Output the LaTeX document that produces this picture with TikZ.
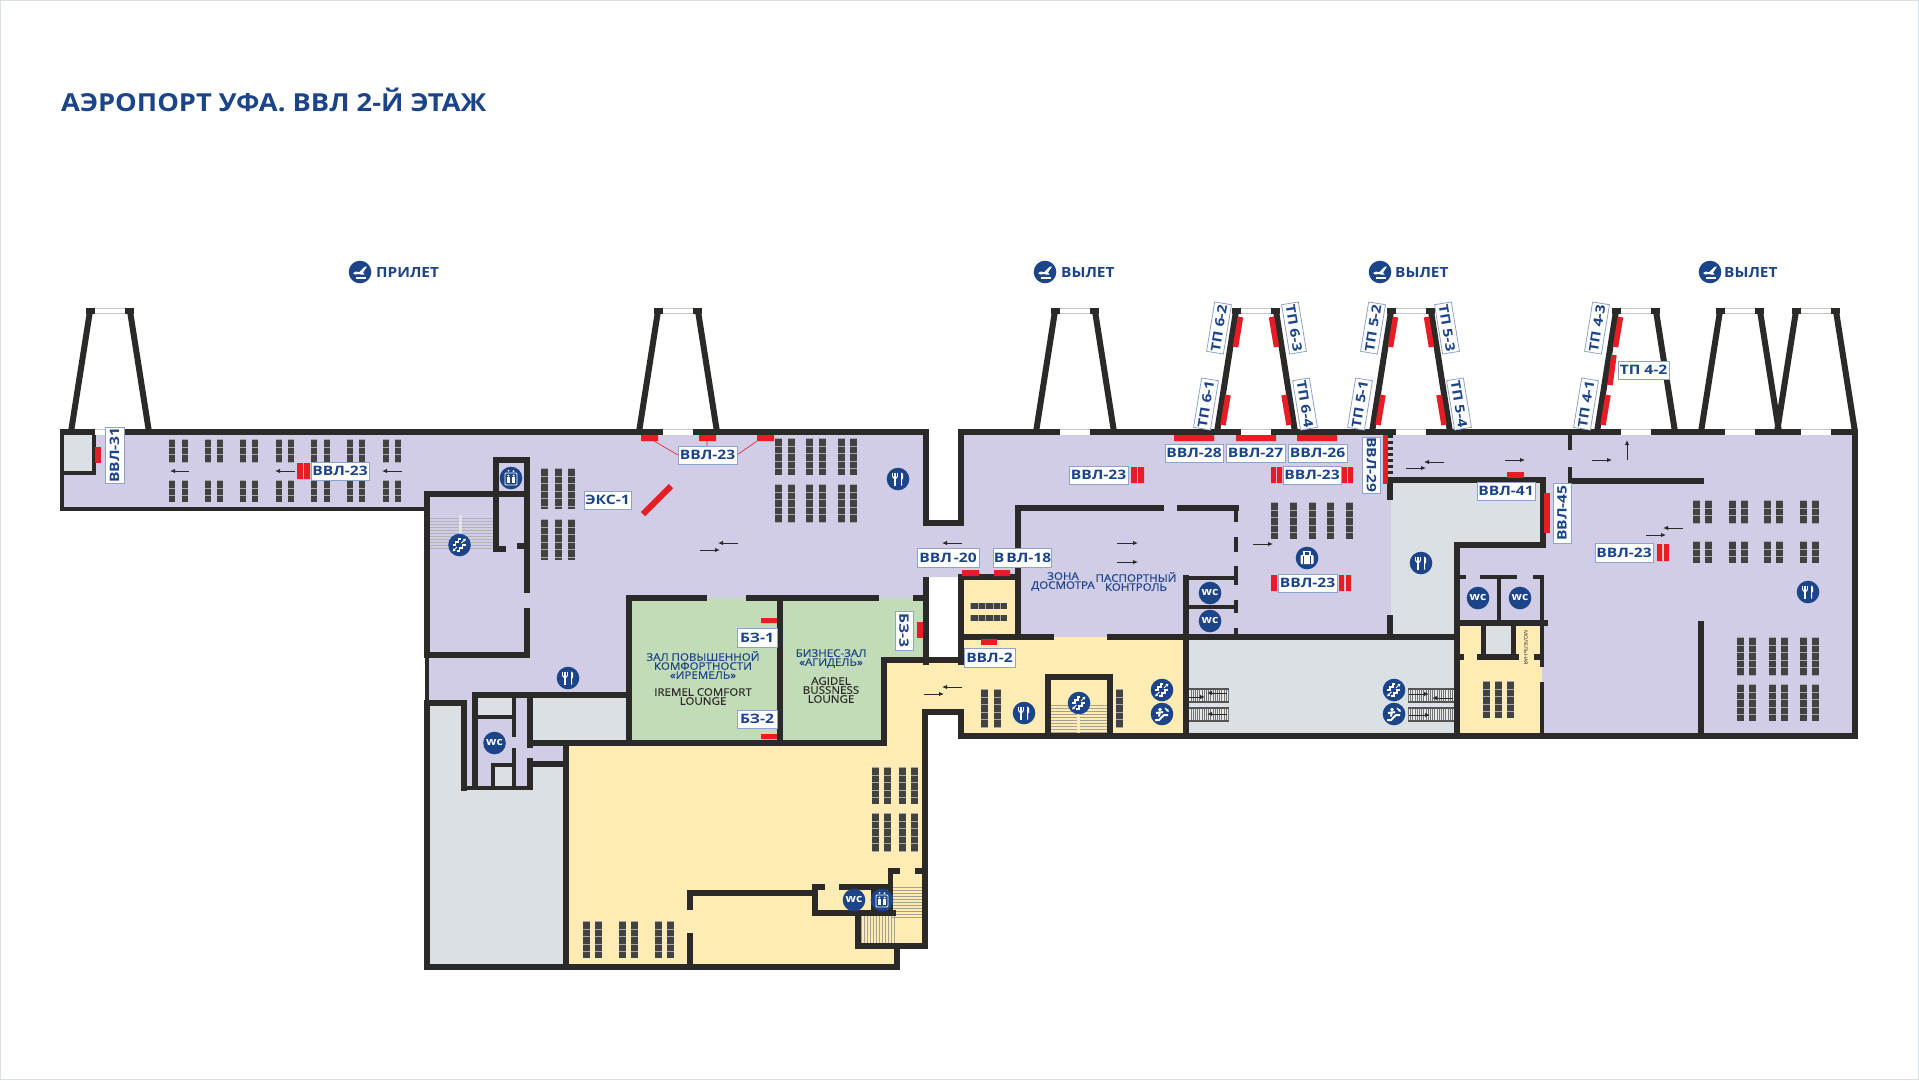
\documentclass[tikz,border=0pt]{standalone}
\usepackage{fontspec}
\setmainfont{Open Sans}[FakeStretch=1.1]
\newfontfamily\lblfont{Open Sans}[FakeStretch=1.2]
\newfontfamily\roomfont{Open Sans}[FakeStretch=1.1,FakeBold=0.35]
\usetikzlibrary{arrows.meta}
\definecolor{wallc}{HTML}{2B2A29}
\definecolor{lilac}{HTML}{D1CDE6}
\definecolor{yell}{HTML}{FEECB4}
\definecolor{greenr}{HTML}{C3DCB8}
\definecolor{grayr}{HTML}{DBE0E4}
\definecolor{navy}{HTML}{1C4489}
\definecolor{redm}{HTML}{E81C24}
\definecolor{seatc}{HTML}{424242}
\definecolor{lblb}{HTML}{8EA3CC}
\tikzset{
 wall/.style={draw=wallc,line width=5.5pt},
 twall/.style={draw=wallc,line width=3.5pt},
 redbar/.style={fill=redm,draw=none},
 arw/.style={draw=wallc,line width=1pt,-{Latex[length=5pt,width=4.5pt]}},
 lbl/.style={draw=lblb,fill=white,line width=.8pt,inner sep=0pt,text=navy,font=\fontsize{13}{13}\lblfont\bfseries,align=center},
 roomt/.style={inner sep=0pt,text=navy,font=\fontsize{10.5}{9}\roomfont,align=center},
 roomk/.style={inner sep=0pt,text=wallc,font=\fontsize{10.5}{9}\roomfont,align=center},
 head/.style={inner sep=0pt,anchor=west,text=navy,font=\fontsize{14}{14}\bfseries}
}
% label: name, cx, cy, width along the text, height, rotation, text
\newcommand\lab[7]{\node[lbl,minimum width=#4pt,minimum height=#5pt,rotate=#6] (#1) at (#2,#3) {#7};}
% seat column x,y1,y2,w
\newcommand\seatcol[4]{\fill[seatc] (#1,#2) rectangle ++(#4,#3-#2);
 \draw[draw=gray!70,line width=#4pt,dash pattern=on .6pt off 6.9pt] ({#1+#4/2},#2) -- ({#1+#4/2},#3);}
\newcommand\seatrow[3]{\fill[seatc] (#1,#2) rectangle (#3,#2+6);
 \draw[draw=gray!70,line width=6pt,dash pattern=on .6pt off 6.9pt] (#1,#2+3) -- (#3,#2+3);}
\newcommand\bridge[1]{
 \draw[wall,line width=6pt] (#1-39,432)--(#1-20,311);
 \draw[wall,line width=6pt] (#1+39,432)--(#1+20,311);
 \draw[wall] (#1-24,311)--(#1-15,311);
 \draw[wall] (#1+15,311)--(#1+24,311);
 \draw[gray!45,line width=.7pt] (#1-15,308.6)--(#1+15,308.6) (#1-15,313.5)--(#1+15,313.5);
}
\newcommand\gapw[1]{
 \fill[white] (#1-15,429) rectangle (#1+15,435);
 \draw[gray!45,line width=.7pt] (#1-15,429.2)--(#1+15,429.2);
}
\newcommand\rs[4]{\draw[redm,line width=5.5pt] ({#1},#2)--({#3},#4);}
\newcommand\bridgered[2]{% c, sign
 \rs{#1+#2*15.5}{317}{#1+#2*20.5}{347}
 \rs{#1+#2*28}{395}{#1+#2*33}{425}
}
\newcommand\disc[2]{\fill[navy] (#1,#2) circle (11.3);}
\newcommand\food[2]{\disc{#1}{#2}
 \begin{scope}[shift={(#1,#2)}]
 \draw[white,line width=1.1pt] (-3,-6.5)--(-3,6.5) (-5.2,-6.5)--(-5.2,-2.5) (-.8,-6.5)--(-.8,-2.5);
 \draw[white,line width=1.1pt] (-5.2,-2.5) to[out=-90,in=180] (-3,-.5) to[out=0,in=-90] (-.8,-2.5);
 \fill[white] (3,-6.5) to[out=0,in=90] (5.2,-.5) -- (4.2,.5)--(4.2,6.5)--(3,6.5)--cycle;
 \end{scope}}
\newcommand\wc[2]{\disc{#1}{#2}\node[inner sep=0pt,text=white,font=\fontsize{11}{11}\bfseries] at (#1,#2-.8) {wc};}
\newcommand\lift[2]{\disc{#1}{#2}
 \begin{scope}[shift={(#1,#2)}]
 \draw[white,line width=.8pt,rounded corners=1pt] (-6,-5) rectangle (6,7);
 \foreach \d in {-2.7,2.7}{\fill[white] (\d,-2.4) circle (1.1); \fill[white] (\d-1.3,-1) rectangle (\d+1.3,5.2);}
 \fill[white] (-3.5,-8)--(-1.5,-8)--(-2.5,-6.2)--cycle (1.5,-6.2)--(3.5,-6.2)--(2.5,-8)--cycle;
 \end{scope}}
\newcommand\stairic[2]{\disc{#1}{#2}
 \begin{scope}[shift={(#1,#2)}]
 \draw[white,line width=1.6pt] (-7,0)--(-4,0)--(-4,-3)--(-1,-3)--(-1,-6)--(1,-6);
 \draw[white,line width=1.6pt] (-3,6)--(0,6)--(0,3)--(3,3)--(3,0)--(6,0);
 \draw[white,line width=1pt,-{Latex[length=3pt,width=3.4pt]}] (2,-2)--(6.5,-6.5);
 \draw[white,line width=1pt,-{Latex[length=3pt,width=3.4pt]}] (-2.5,2)--(-7,6.5);
 \end{scope}}
\newcommand\escic[2]{\disc{#1}{#2}
 \begin{scope}[shift={(#1,#2)}]
 \draw[white,line width=2pt] (-7,6)--(-3,6)--(2,1)--(6,1);
 \fill[white] (-2,-4.5) circle (1.8);
 \draw[white,line width=2pt] (-2,-2.5)--(-3,2.5) (-6,-1)--(1,-2);
 \draw[white,line width=1.1pt,-{Latex[length=3pt,width=3.4pt]}] (3,-6)--(7,-2);
 \end{scope}}
\newcommand\planeic[2]{\disc{#1}{#2}
 \begin{scope}[shift={(#1,#2)}]
 \fill[white] (-7,1)--(-4,-.5)--(-1,.3)--(5,-5.5)--(7,-5.5)--(3,0.5)--(4.5,2.5)--(1,2.5)--(-1,2)--(-5,2.5)--cycle;
 \draw[white,line width=1.3pt] (-4,6)--(6,6);
 \end{scope}}
\newcommand\bagic[2]{\disc{#1}{#2}
 \begin{scope}[shift={(#1,#2)}]
 \fill[white,rounded corners=1pt] (-6.5,-3) rectangle (6.5,6);
 \draw[white,line width=1.2pt] (-3,-3)--(-3,-6.5)--(3,-6.5)--(3,-3);
 \draw[navy,line width=1pt] (-3.5,-2.5)--(-3.5,5.5) (3.5,-2.5)--(3.5,5.5);
 \end{scope}}
\begin{document}
\begin{tikzpicture}[x=1pt,y=-1pt]
\useasboundingbox (0,0) rectangle (1919,1080);
\fill[white] (0,0) rectangle (1919,1080);
\draw[grayr,line width=1.6pt] (.5,.5) rectangle (1918.5,1079.5);
% ---- fills
\fill[lilac] (63,432)--(926,432)--(926,520)--(961,520)--(961,432)--(1855,432)--(1855,736)--(1186,736)--(1186,637)--(1018,637)--(1018,577)--(926,577)--(926,598)--(628,598)--(628,743)--(566,743)--(566,764)--(530,764)--(530,788)--(464,788)--(464,703)--(427,703)--(427,509)--(63,509)--cycle;
\fill[greenr] (628,598) rectangle (780,743);
\fill[greenr] (780,598)--(926,598)--(926,663)--(884,663)--(884,743)--(780,743)--cycle;
\fill[yell] (566,743)--(884,743)--(884,663)--(961,663)--(961,637)--(1186,637)--(1186,736)--(961,736)--(961,715)--(924,715)--(924,946)--(897,946)--(897,967)--(566,967)--cycle;
\fill[yell] (961,577) rectangle (1018,637);
\fill[yell] (1457,623) rectangle (1542,736);
\fill[grayr] (427,703)--(464,703)--(464,788)--(530,788)--(530,764)--(566,764)--(566,967)--(427,967)--cycle;
\fill[grayr] (530,698) rectangle (628,743);
\fill[grayr] (476,698) rectangle (514,717);
\fill[grayr] (493,765) rectangle (514,788);
\fill[grayr] (1186,637) rectangle (1457,736);
\fill[grayr] (1391,480)--(1543,480)--(1543,545)--(1457,545)--(1457,637)--(1391,637)--cycle;
\fill[grayr] (63,432) rectangle (93,473);
\fill[grayr] (1483,625) rectangle (1513,657);
% ---- stairs and escalators
\foreach \y in {518,521,...,548}{\draw[draw=gray!60,line width=.7pt] (429.5,\y)--(493.5,\y);}
\fill[lilac!60!white] (459,515) rectangle (462,534);
\foreach \y in {705,708,...,733}{\draw[draw=gray!70!yell,line width=.7pt] (1051,\y)--(1107,\y);}
\fill[yell] (1077,705) rectangle (1080,733);
\foreach \y in {887,890,...,917}{\draw[draw=gray!70!yell,line width=.7pt] (892,\y)--(924,\y);}
\foreach \x in {861,864,...,894}{\draw[draw=gray!70!yell,line width=.7pt] (\x,916)--(\x,943);}
\foreach \xa/\xb in {1184/1229,1408/1454}{
 \foreach \y in {689,708}{
  \fill[grayr!70!white] (\xa,\y) rectangle (\xb,\y+13);
  \draw[draw=gray!90!black,line width=13pt,dash pattern=on .6pt off 1.6pt] (\xa,\y+6.5)--(\xb,\y+6.5);
  \draw[draw=wallc!80!white,line width=1.3pt] (\xa,\y)--(\xb,\y) (\xa,\y+13)--(\xb,\y+13);
 }}
% ---- seats
\foreach \x in {169,182,204.5,217,240,252,276,288,311,323.5,347,359,382.5,395}{\seatcol{\x}{439}{462}{6}\seatcol{\x}{480}{502}{6}}
\foreach \x in {541,555,568}{\seatcol{\x}{468}{509}{7}\seatcol{\x}{519}{560}{7}}
\foreach \x in {775,788,806,819,838,850}{\seatcol{\x}{438}{475}{7}\seatcol{\x}{484}{522}{7}}
\foreach \x in {871.5,883.5,899,911}{\seatcol{\x}{767}{804}{7}\seatcol{\x}{813}{851}{7}}
\foreach \x in {583,595,619,631,654.5,667}{\seatcol{\x}{921}{958}{7}}
\seatrow{970}{603}{1007}\seatrow{970}{615}{1007}
\foreach \x in {981,994,1116}{\seatcol{\x}{689}{727}{7}}
\foreach \x in {1271,1290,1308.5,1327,1345.5}{\seatcol{\x}{502}{539}{7}}
\foreach \x in {1693,1705,1729,1741,1764,1776,1800,1812}{\seatcol{\x}{500}{523}{7}\seatcol{\x}{541}{563}{7}}
\foreach \x in {1737,1749,1769,1781,1800,1812}{\seatcol{\x}{637}{675}{7}\seatcol{\x}{684}{721}{7}}
\foreach \x in {1483,1495,1507}{\seatcol{\x}{681}{718}{7}}
% ---- outer walls
\draw[wall] (60,432)--(926,432);
\draw[wall] (961,432)--(1858,432);
\draw[wall] (926,429)--(926,523)--(961,523)--(961,429);
\draw[twall,line width=4pt] (62,432)--(62,509)--(427,509);
\draw[wall,line width=4pt] (62,473)--(95,473);
\draw[twall] (94,432)--(94,475);
\draw[wall] (1855,429)--(1855,739);
\draw[wall] (961,736)--(1858,736);
\draw[wall] (961,739)--(961,712)--(922,712);
\draw[wall] (925,712)--(925,949);
\draw[wall] (858,946)--(927,946);
\draw[wall] (897,946)--(897,967);
\draw[wall] (424,967)--(900,967);
\draw[wall] (427,491)--(427,655);
\draw[twall] (427,655)--(427,703);
\draw[wall] (427,703)--(427,970);
% left room & lift
\draw[wall] (424,494)--(530,494);
\draw[wall] (493,460)--(530,460);
\draw[wall] (496,457)--(496,549)--(506,549);
\draw[wall] (517,546)--(527,546);
\draw[wall] (527,457)--(527,593);
\draw[wall] (527,608)--(527,658);
\draw[wall] (424,655)--(530,655);
% wc block
\draw[wall] (472,695)--(631,695);
\draw[wall] (475,695)--(475,790);
\draw[wall] (424,703)--(464,703)--(464,791);
\draw[twall,line width=4pt] (462,788)--(532,788);
\draw[wall] (530,693)--(530,748);
\draw[wall] (530,758)--(530,790);
\draw[twall,line width=4pt] (514,698)--(514,737);
\draw[twall,line width=4pt] (514,748)--(514,788);
\draw[twall,line width=4pt] (476,717)--(514,717);
\draw[twall,line width=4pt] (514,765)--(493,765)--(493,788);
\draw[wall] (530,743)--(887,743);
\draw[wall] (530,764)--(566,764);
\draw[wall] (566,743)--(566,970);
% lounges
\draw[wall] (629,595)--(629,746);
\draw[wall] (626,598)--(707,598);
\draw[wall] (746,598)--(879,598);
\draw[wall] (913,598)--(926,598);
\draw[wall] (780,595)--(780,746);
\draw[wall] (926,577)--(926,665);
\draw[wall] (884,746)--(884,660)--(964,660);
\draw[wall] (961,575)--(961,665);
% yellow interior
\draw[wall] (687,893)--(815,893);
\draw[wall] (690,890)--(690,910);
\draw[wall] (690,933)--(690,967);
\draw[wall] (815,884)--(815,916);
\draw[wall] (812,887)--(825,887);
\draw[wall] (839,887)--(893,887);
\draw[wall] (812,913)--(896,913);
\draw[wall] (874,887)--(874,913);
\draw[wall] (890.5,868)--(890.5,913);
\draw[wall] (888,871)--(900,871);
\draw[wall] (915,871)--(927,871);
\draw[wall] (858,911)--(858,949);
% central block
\draw[wall] (958,577)--(1021,577);
\draw[wall] (1018,505)--(1018,639);
\draw[wall] (1015,508)--(1164,508);
\draw[wall] (1177,508)--(1238.5,508);
\foreach \a/\b in {508/522,537/552,566/585,600/613,628/634}{\draw[wall,line width=4pt] (1236,\a)--(1236,\b);}
\draw[wall] (961,637)--(1054,637);
\draw[wall] (1107,637)--(1460,637);
\draw[wall] (1186,575)--(1186,739);
\draw[wall,line width=4pt] (1186,578)--(1236,578);
\draw[wall,line width=4pt] (1186,607)--(1236,607);
\draw[wall] (1048,736)--(1048,677)--(1110,677)--(1110,736);
\draw[wall] (1390,477)--(1390,500);
\draw[wall] (1390,615)--(1390,637);
\draw[wall] (1387,480)--(1546,480);
\draw[wall] (1543,478)--(1543,548);
\draw[wall] (1454,545)--(1546,545);
\draw[wall] (1457,542)--(1457,739);
% right part
\draw[wall,line width=4pt] (1570,435)--(1570,450);
\draw[wall,line width=4pt] (1570,467)--(1570,483);
\draw[wall] (1568,481)--(1704,481);
\draw[wall] (1701,621)--(1701,736);
\draw[wall,line width=4pt] (1458,577)--(1466,577);
\draw[wall,line width=4pt] (1480,577)--(1517,577);
\draw[wall,line width=4pt] (1533,577)--(1543,577);
\draw[wall,line width=4pt] (1499,577)--(1499,623);
\draw[wall,line width=4pt] (1542,575)--(1542,623);
\draw[wall] (1457,623)--(1548,623);
\draw[wall] (1458,657)--(1464,657);
\draw[wall] (1477,657)--(1519,657);
\draw[wall] (1534,657)--(1542,657);
\draw[wall,line width=5pt] (1483,623)--(1483,657);
\draw[wall,line width=5pt] (1513,623)--(1513,657);
\draw[wall,line width=4pt] (1542,623)--(1542,667);
\draw[wall,line width=4pt] (1542,682)--(1542,736);
% stairs near VVL-29
\draw[wall,line width=5pt,dash pattern=on 3pt off 3pt] (1390.5,435)--(1390.5,477);
% ---- jet bridges
\foreach \c in {110,678,1075,1256,1411,1636,1740,1816}{\bridge{\c}\gapw{\c}}
% ---- red marks
\fill[redbar] (95,447) rectangle (100.5,463);
\fill[redbar] (297,463) rectangle (303,479) (304,463) rectangle (310,479);
\fill[redbar] (641,435) rectangle (658,441) (699,435) rectangle (716,441) (757,435) rectangle (774,441);
\draw[redm,line width=6pt] (643,514)--(671,486);
\fill[redbar] (1174,435) rectangle (1214,441) (1236,435) rectangle (1276,441) (1297,435) rectangle (1337,441);
\fill[redbar] (1131,467) rectangle (1137,483) (1138,467) rectangle (1144,483);
\fill[redbar] (1271,467) rectangle (1276,483) (1277,467) rectangle (1282,483);
\fill[redbar] (1342,467) rectangle (1347,483) (1348,467) rectangle (1353,483);
\fill[redbar] (1383,435) rectangle (1388,484);
\fill[redbar] (962,570) rectangle (979,576) (994,570) rectangle (1010,576);
\fill[redbar] (981,639) rectangle (997,645);
\fill[redbar] (1271,575) rectangle (1277,591) (1339,575) rectangle (1344,591) (1346,575) rectangle (1351,591);
\fill[redbar] (1507,472) rectangle (1524,478);
\fill[redbar] (1544,493) rectangle (1550,533);
\fill[redbar] (1657,544) rectangle (1662,561) (1664,544) rectangle (1669,561);
\fill[redbar] (761,618) rectangle (777,623) (761,734) rectangle (777,739);
\fill[redbar] (917,622) rectangle (923,638);
\foreach \c in {1256,1411}{\bridgered{\c}{-1}\bridgered{\c}{1}}
\bridgered{1636}{-1}
\rs{1636-22}{355}{1636-26}{385}
% ---- arrows
\foreach \a/\b/\c/\d in {189/471/170/471,295/471/275/471,402/471/382/471,738/543/718/543,700/550/720/550,962/543/942/543,962/687/942/687,924/694/944/694,1117/543/1138/543,1117/562/1138/562,1253/544/1273/544,1444/462/1424/462,1406/468/1426/468,1505/460/1525/460,1592/460/1612/460,1627/460/1627/440,1683/528/1663/528,1646/535/1666/535,1186/697/1205/697,1227/693/1207/693,1227/714/1207/714,1409/694/1429/694,1453/698/1432/698,1409/715/1430/715}{\draw[arw] (\a,\b)--(\c,\d);}
% ---- labels
\draw[redm,line width=.6pt] (654,441)--(678,455) (707,441)--(707,446) (757,441)--(737,455);
\lab{l31}{114.5}{455}{56}{19}{90}{ВВЛ-31}
\lab{l23a}{340}{471}{58}{18}{0}{ВВЛ-23}
\lab{l23b}{707.5}{455}{59}{18}{0}{ВВЛ-23}
\lab{eks}{607.5}{500}{47}{18}{0}{ЭКС-1}
\lab{l28}{1194}{453}{58}{18}{0}{ВВЛ-28}
\lab{l27}{1255.5}{453}{59}{18}{0}{ВВЛ-27}
\lab{l26}{1317.5}{453}{59}{18}{0}{ВВЛ-26}
\lab{l23c}{1098.5}{475}{59}{18}{0}{ВВЛ-23}
\lab{l23d}{1312}{475}{58}{18}{0}{ВВЛ-23}
\lab{l29}{1371.5}{465}{56}{18}{-90}{ВВЛ-29}
\lab{l20}{948}{557.5}{62}{19}{0}{ВВЛ\kern2pt-20}
\lab{l18}{1022.5}{557.5}{57}{19}{0}{В\kern2pt ВЛ-18}
\lab{l2}{989.5}{657.5}{51}{19}{0}{ВВЛ-2}
\lab{l23e}{1307.5}{583}{59}{18}{0}{ВВЛ-23}
\lab{l41}{1506}{491}{58}{18}{0}{ВВЛ-41}
\lab{l45}{1562}{513}{60}{18}{90}{ВВЛ-45}
\lab{l23f}{1624}{552.5}{58}{19}{0}{ВВЛ-23}
\lab{b1}{757}{637.5}{40}{19}{0}{БЗ-1}
\lab{b2}{757}{719}{40}{18}{0}{БЗ-2}
\lab{b3}{904}{630.5}{39}{18}{-90}{БЗ-3}
\lab{t42}{1643.5}{370}{51}{18}{0}{ТП 4-2}
\lab{t41}{1586}{404}{50}{17}{80.7}{ТП 4-1}
\lab{t43}{1597}{328}{50}{17}{80.7}{ТП 4-3}
\lab{t51}{1360}{404}{50}{17}{80.7}{ТП 5-1}
\lab{t52}{1373}{328}{50}{17}{80.7}{ТП 5-2}
\lab{t53}{1447}{328}{50}{17}{-80.7}{ТП 5-3}
\lab{t54}{1459}{404}{50}{17}{-80.7}{ТП 5-4}
\lab{t61}{1206}{404}{50}{17}{80.7}{ТП 6-1}
\lab{t62}{1219}{328}{50}{17}{80.7}{ТП 6-2}
\lab{t63}{1294}{328}{50}{17}{-80.7}{ТП 6-3}
\lab{t64}{1305}{404}{50}{17}{-80.7}{ТП 6-4}
% ---- room texts
\node[inner sep=0pt,anchor=west,text=navy,font=\fontsize{24.8}{26}\bfseries] (title) at (61,100) {АЭРОПОРТ УФА. ВВЛ 2-Й ЭТАЖ};
\node[roomt] (irem) at (703,665) {ЗАЛ ПОВЫШЕННОЙ\\КОМФОРТНОСТИ\\«ИРЕМЕЛЬ»};
\node[roomk] (iremen) at (703,696.5) {IREMEL COMFORT\\LOUNGE};
\node[roomt] (agid) at (831,658.5) {БИЗНЕС-ЗАЛ\\«АГИДЕЛЬ»};
\node[roomk] (agiden) at (831,690) {AGIDEL\\BUSSNESS\\LOUNGE};
\node[roomt] (zona) at (1063,581.5) {ЗОНА\\ДОСМОТРА};
\node[roomt] (pasp) at (1136,581.5) {ПАСПОРТНЫЙ\\КОНТРОЛЬ};
\node[inner sep=0pt,text=wallc,rotate=-90,font=\fontsize{5}{5}\selectfont] (mol) at (1526,648) {МОЛЕЛЬНАЯ};
\node[head] (h1) at (376,272.5) {ПРИЛЕТ};
\node[head] (h2) at (1061,272.5) {ВЫЛЕТ};
\node[head] (h3) at (1395,272.5) {ВЫЛЕТ};
\node[head] (h4) at (1724,272.5) {ВЫЛЕТ};
% ---- icons
\planeic{360}{272}\planeic{1045}{272}\planeic{1380}{272}\planeic{1710}{272}
\food{898}{479}\food{568}{678}\food{1024}{713}\food{1421}{563}\food{1808}{592}
\wc{494.5}{743}\wc{854}{900}\wc{1210}{593}\wc{1210}{621}\wc{1478}{598}\wc{1520}{598}
\lift{511}{478}\lift{882}{900}
\stairic{459.5}{545}\stairic{1079}{703}\stairic{1162}{690}\stairic{1394}{690}
\escic{1162}{714}\escic{1394}{714}
\bagic{1307}{558}
\end{tikzpicture}
\end{document}
